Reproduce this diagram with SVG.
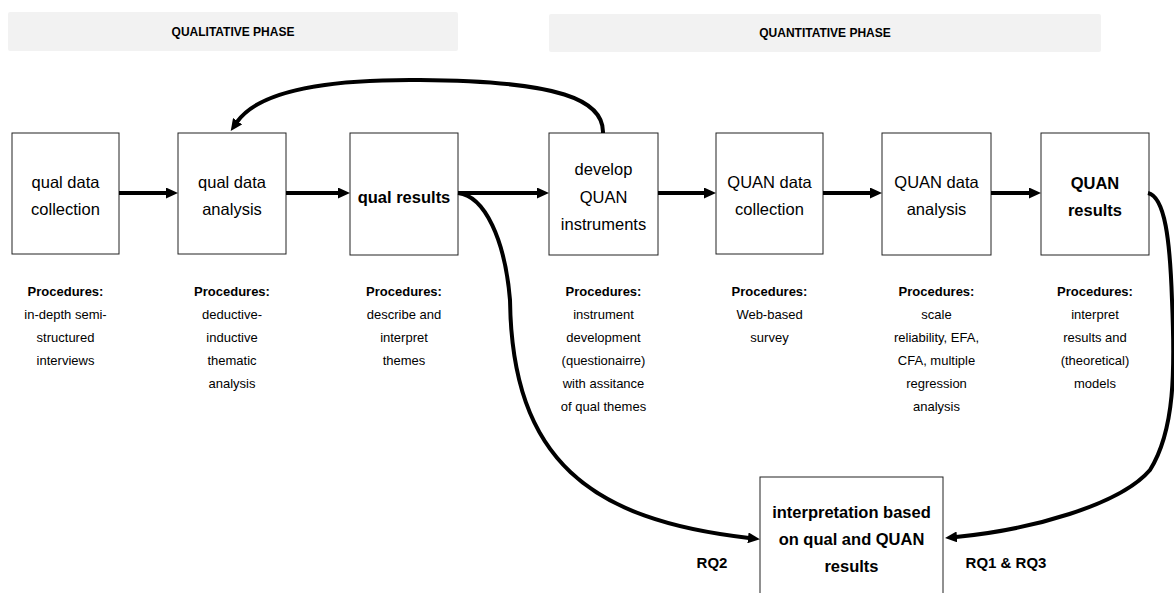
<svg xmlns="http://www.w3.org/2000/svg" width="1174" height="593" viewBox="0 0 1174 593">
<style>
.bar{fill:#f2f2f2;}
.box{fill:#fff;stroke:#222;stroke-width:1;}
.ph{font-family:"Liberation Sans",Arial,sans-serif;font-size:12px;font-weight:bold;text-anchor:middle;fill:#000;}
.lbl{font-family:"Liberation Sans",Arial,sans-serif;font-size:16.5px;text-anchor:middle;fill:#000;}
.lblb{font-family:"Liberation Sans",Arial,sans-serif;font-size:16.5px;font-weight:bold;text-anchor:middle;fill:#000;}
.pr{font-family:"Liberation Sans",Arial,sans-serif;font-size:13px;text-anchor:middle;fill:#000;}
.prb{font-family:"Liberation Sans",Arial,sans-serif;font-size:13px;font-weight:bold;text-anchor:middle;fill:#000;}
.rq{font-family:"Liberation Sans",Arial,sans-serif;font-size:15px;font-weight:bold;text-anchor:middle;fill:#000;}
.cn{fill:none;stroke:#000;stroke-width:4;}
</style>
<defs>
<marker id="ah" markerUnits="userSpaceOnUse" markerWidth="13" markerHeight="11" refX="1" refY="5.5" orient="auto">
<path d="M0,0 L12,5.5 L0,11 z" fill="#000"/>
</marker>
</defs>

<g id="phase-qual">
<rect class="bar" x="8" y="12" width="450" height="39" rx="2"/>
<text class="ph" x="233" y="36">QUALITATIVE PHASE</text>
</g>
<g id="phase-quan">
<rect class="bar" x="549" y="14" width="552" height="38" rx="2"/>
<text class="ph" x="825" y="37">QUANTITATIVE PHASE</text>
</g>

<g id="n1">
<rect class="box" x="12" y="133" width="107" height="121"/>
<text class="lbl" x="65.5" y="188">qual data</text>
<text class="lbl" x="65.5" y="215">collection</text>
<text class="prb" x="65.5" y="296">Procedures:</text>
<text class="pr" x="65.5" y="319">in-depth semi-</text>
<text class="pr" x="65.5" y="342">structured</text>
<text class="pr" x="65.5" y="365">interviews</text>
</g>
<g id="n2">
<rect class="box" x="178" y="133" width="108" height="121"/>
<text class="lbl" x="232" y="188">qual data</text>
<text class="lbl" x="232" y="215">analysis</text>
<text class="prb" x="232" y="296">Procedures:</text>
<text class="pr" x="232" y="319">deductive-</text>
<text class="pr" x="232" y="342">inductive</text>
<text class="pr" x="232" y="365">thematic</text>
<text class="pr" x="232" y="388">analysis</text>
</g>
<g id="n3">
<rect class="box" x="350" y="133" width="108" height="122"/>
<text class="lblb" x="404" y="203">qual results</text>
<text class="prb" x="404" y="296">Procedures:</text>
<text class="pr" x="404" y="319">describe and</text>
<text class="pr" x="404" y="342">interpret</text>
<text class="pr" x="404" y="365">themes</text>
</g>
<g id="n4">
<rect class="box" x="549" y="133" width="109" height="122"/>
<text class="lbl" x="603.5" y="175">develop</text>
<text class="lbl" x="603.5" y="203">QUAN</text>
<text class="lbl" x="603.5" y="230">instruments</text>
<text class="prb" x="603.5" y="296">Procedures:</text>
<text class="pr" x="603.5" y="319">instrument</text>
<text class="pr" x="603.5" y="342">development</text>
<text class="pr" x="603.5" y="365">(questionairre)</text>
<text class="pr" x="603.5" y="388">with assitance</text>
<text class="pr" x="603.5" y="411">of qual themes</text>
</g>
<g id="n5">
<rect class="box" x="716" y="133" width="107" height="121"/>
<text class="lbl" x="769.5" y="188">QUAN data</text>
<text class="lbl" x="769.5" y="215">collection</text>
<text class="prb" x="769.5" y="296">Procedures:</text>
<text class="pr" x="769.5" y="319">Web-based</text>
<text class="pr" x="769.5" y="342">survey</text>
</g>
<g id="n6">
<rect class="box" x="882" y="133" width="109" height="122"/>
<text class="lbl" x="936.5" y="188">QUAN data</text>
<text class="lbl" x="936.5" y="215">analysis</text>
<text class="prb" x="936.5" y="296">Procedures:</text>
<text class="pr" x="936.5" y="319">scale</text>
<text class="pr" x="936.5" y="342">reliability, EFA,</text>
<text class="pr" x="936.5" y="365">CFA, multiple</text>
<text class="pr" x="936.5" y="388">regression</text>
<text class="pr" x="936.5" y="411">analysis</text>
</g>
<g id="n7">
<rect class="box" x="1041" y="133" width="108" height="122"/>
<text class="lblb" x="1095" y="189">QUAN</text>
<text class="lblb" x="1095" y="216">results</text>
<text class="prb" x="1095" y="296">Procedures:</text>
<text class="pr" x="1095" y="319">interpret</text>
<text class="pr" x="1095" y="342">results and</text>
<text class="pr" x="1095" y="365">(theoretical)</text>
<text class="pr" x="1095" y="388">models</text>
</g>
<g id="n8">
<rect class="box" x="760" y="477" width="183" height="130"/>
<text class="lblb" x="851.5" y="518">interpretation based</text>
<text class="lblb" x="851.5" y="545">on qual and QUAN</text>
<text class="lblb" x="851.5" y="572">results</text>
</g>

<g id="labels">
<text class="rq" x="712" y="568">RQ2</text>
<text class="rq" x="1006" y="568">RQ1 &amp; RQ3</text>
</g>

<g id="connectors">
<path class="cn" d="M119,193 H167" marker-end="url(#ah)"/>
<path class="cn" d="M286,193 H339" marker-end="url(#ah)"/>
<path class="cn" d="M458,193 H538" marker-end="url(#ah)"/>
<path class="cn" d="M658,193 H705" marker-end="url(#ah)"/>
<path class="cn" d="M823,193 H871" marker-end="url(#ah)"/>
<path class="cn" d="M991,193 H1030" marker-end="url(#ah)"/>
<path class="cn" d="M603,133 C604,100 560,81 420,80 C320,79 258,92 237,122" marker-end="url(#ah)"/>
<path class="cn" d="M458,193 C485,196 505,240 510,300 C512,460 590,520 749,538" marker-end="url(#ah)"/>
<path class="cn" d="M1148,193 C1165,197 1170,240 1172,300 C1175,370 1175,430 1150,470 C1120,505 1030,530 956,537" marker-end="url(#ah)"/>
</g>
</svg>
